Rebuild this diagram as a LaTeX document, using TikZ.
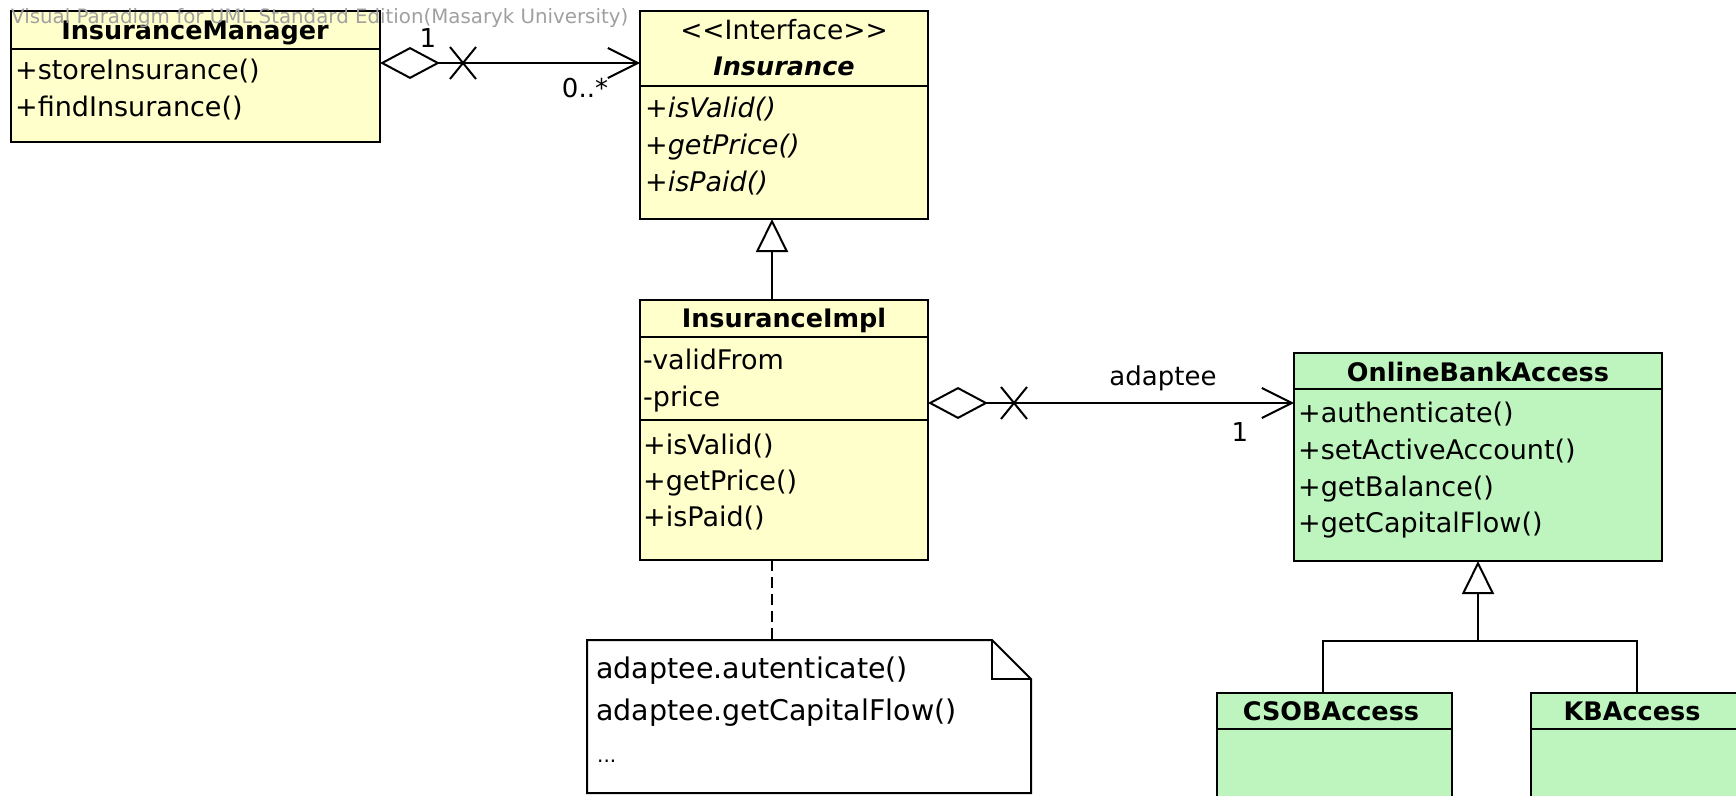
\documentclass[tikz,border=0pt]{standalone}
\usepackage{fontspec}
\setmainfont{DejaVu Sans}
\usetikzlibrary{calc,arrows.meta}
\definecolor{umlyellow}{RGB}{255,255,204}
\definecolor{umlgreen}{RGB}{190,245,190}
\definecolor{wmgray}{RGB}{160,160,160}
\begin{document}
\begin{tikzpicture}[x=1pt,y=-1pt,
  box/.style={draw, line width=2.2pt, anchor=north west, inner sep=0pt, outer sep=0pt},
  ylw/.style={box, fill=umlyellow},
  grn/.style={box, fill=umlgreen},
  divider/.style={line width=2.2pt},
  title/.style={anchor=base, inner sep=0pt, font=\fontsize{25.5}{30}\selectfont\bfseries},
  mem/.style={anchor=base west, inner sep=0pt, font=\fontsize{27}{32}\selectfont},
  imem/.style={mem, font=\fontsize{27}{32}\selectfont\itshape},
  lbl/.style={inner sep=0pt, font=\fontsize{26}{30}\selectfont},
  conn/.style={line width=2pt},
  assoc/.style={conn, {Diamond[open, length=60pt, width=32pt]}-{Straight Barb[length=30pt, width=30pt]}},
  gen/.style={conn, -{Triangle[open, length=33pt, width=32pt]}},
  notebox/.style={anchor=north west, inner sep=0pt, outer sep=0pt},
  notetxt/.style={anchor=base west, inner sep=0pt, font=\fontsize{28.5}{34}\selectfont}
]
\path[use as bounding box, fill=white] (0,0) rectangle (1736,795);

% ---------- InsuranceManager ----------
\node[ylw, minimum width=369pt, minimum height=131pt] (im) at (11,11) {};
\draw[divider] ($(im.north west)+(0,38)$) -- ($(im.north east)+(0,38)$);
\node[title] (im-t) at (195,39) {InsuranceManager};
\node[mem] (im-m1) at (15,79) {+storeInsurance()};
\node[mem] (im-m2) at (15,116) {+findInsurance()};

% ---------- Insurance ----------
\node[ylw, minimum width=288pt, minimum height=208pt] (ins) at (640,11) {};
\draw[divider] ($(ins.north west)+(0,75)$) -- ($(ins.north east)+(0,75)$);
\node[anchor=base, inner sep=0pt, font=\fontsize{26.5}{30}\selectfont] (ins-s) at (784,39) {{<}{<}Interface{>}{>}};
\node[title, font=\fontsize{25.5}{30}\selectfont\bfseries\itshape] (ins-t) at (784,75) {Insurance};
\node[imem] (ins-m1) at (645,117) {+isValid()};
\node[imem] (ins-m2) at (645,154) {+getPrice()};
\node[imem] (ins-m3) at (645,191) {+isPaid()};

% ---------- InsuranceImpl ----------
\node[ylw, minimum width=288pt, minimum height=260pt] (impl) at (640,300) {};
\draw[divider] ($(impl.north west)+(0,37)$) -- ($(impl.north east)+(0,37)$);
\draw[divider] ($(impl.north west)+(0,120)$) -- ($(impl.north east)+(0,120)$);
\node[title] (impl-t) at (784,327) {InsuranceImpl};
\node[mem] (impl-a1) at (643,369) {-validFrom};
\node[mem] (impl-a2) at (643,406) {-price};
\node[mem] (impl-m1) at (643,454) {+isValid()};
\node[mem] (impl-m2) at (643,490) {+getPrice()};
\node[mem] (impl-m3) at (643,526) {+isPaid()};

% ---------- OnlineBankAccess ----------
\node[grn, minimum width=368pt, minimum height=208pt] (oba) at (1294,353) {};
\draw[divider] ($(oba.north west)+(0,36)$) -- ($(oba.north east)+(0,36)$);
\node[title] (oba-t) at (1478,381) {OnlineBankAccess};
\node[mem] (oba-m1) at (1298,422) {+authenticate()};
\node[mem] (oba-m2) at (1298,459) {+setActiveAccount()};
\node[mem] (oba-m3) at (1298,496) {+getBalance()};
\node[mem] (oba-m4) at (1298,532) {+getCapitalFlow()};

% ---------- CSOBAccess / KBAccess ----------
\node[grn, minimum width=235pt, minimum height=120pt] (csob) at (1217,693) {};
\draw[divider] ($(csob.north west)+(0,36)$) -- ($(csob.north east)+(0,36)$);
\node[title] (csob-t) at (1331,720) {CSOBAccess};
\node[grn, minimum width=235pt, minimum height=120pt] (kb) at (1531,693) {};
\draw[divider] ($(kb.north west)+(0,36)$) -- ($(kb.north east)+(0,36)$);
\node[title] (kb-t) at (1632,720) {KBAccess};

% ---------- Note ----------
\node[notebox, minimum width=444pt, minimum height=153pt] (note) at (587,640) {};
\draw[line width=2pt, fill=white] (note.north west) -- ($(note.north east)+(-39,0)$) -- ($(note.north east)+(0,39)$) -- (note.south east) -- (note.south west) -- cycle;
\draw[line width=2pt] ($(note.north east)+(-39,0)$) -- ($(note.north east)+(-39,39)$) -- ($(note.north east)+(0,39)$);
\node[notetxt] (n1) at (596,678) {adaptee.autenticate()};
\node[notetxt] (n2) at (596,720) {adaptee.getCapitalFlow()};
\node[notetxt, font=\fontsize{20}{24}\selectfont] (n3) at (597,762) {...};

% ---------- Connectors ----------
% association InsuranceManager -> Insurance
\draw[assoc] ($(im.north east)+(0,52)$) -- ($(ins.north west)+(0,52)$);
\draw[conn] (450,47) -- (476,79);
\draw[conn] (450,79) -- (476,47);
\node[lbl] (l1) at (428,38) {1};
\node[lbl] (l0m) at (585,88) {0..*};

% association InsuranceImpl -> OnlineBankAccess
\draw[assoc] ($(impl.north east)+(0,103)$) -- ($(oba.north west)+(0,50)$);
\draw[conn] (1001,387) -- (1027,419);
\draw[conn] (1001,419) -- (1027,387);
\node[lbl] (ladp) at (1163,378) {adaptee};
\node[lbl] (l1b) at (1240,432) {1};

% generalization InsuranceImpl -> Insurance
\draw[gen] ($(impl.north)+(-12,0)$) -- ($(ins.south)+(-12,0)$);

% generalization tree CSOB/KB -> OnlineBankAccess
\coordinate (j) at ($(oba.south)+(0,80)$);
\draw[gen] (j) -- (oba.south);
\draw[conn] ($(csob.north)+(-12,0)$) |- (j) -| ($(kb.north)+(-12,0)$);

% note anchor
\coordinate (d) at ($(impl.south)+(-12,0)$);
\draw[conn, dash pattern=on 11pt off 6pt] (d) -- (d |- note.north);

% watermark
\node[anchor=west, inner sep=0pt, text=wmgray, font=\fontsize{19.8}{22}\selectfont] (wm) at (11,18) {Visual Paradigm for UML Standard Edition(Masaryk University)};
\end{tikzpicture}
\end{document}
